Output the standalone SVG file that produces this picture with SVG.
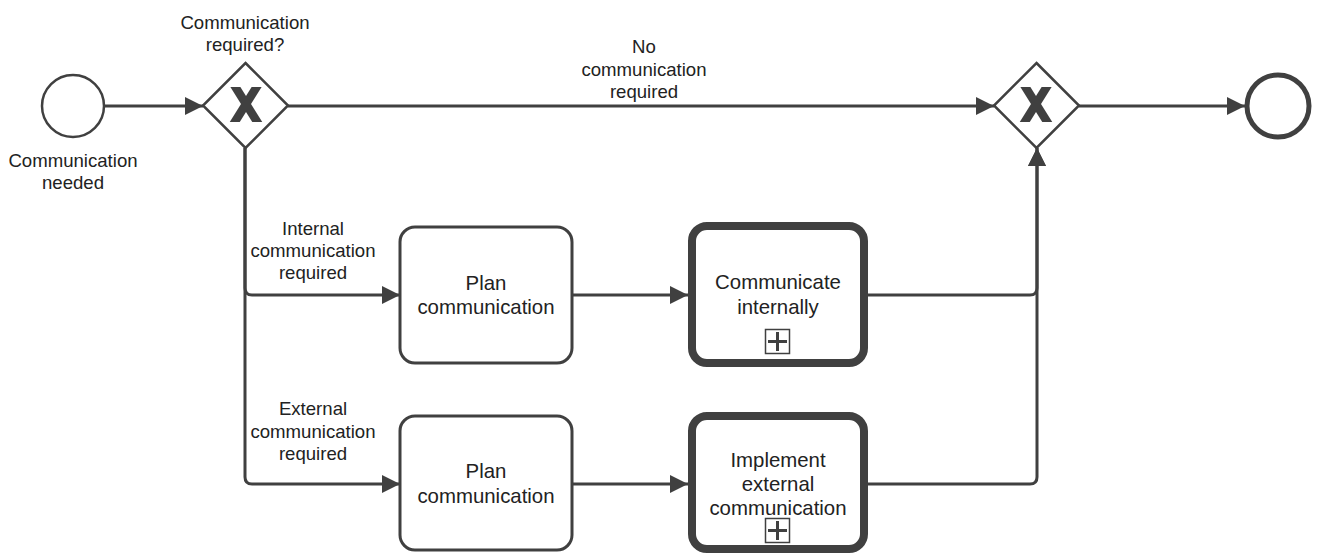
<svg xmlns="http://www.w3.org/2000/svg" width="1317" height="553" viewBox="0 0 1317 553">
<style>
.ln{fill:none;stroke:#404040;stroke-width:3;}
.ev{fill:#fff;stroke:#404040;stroke-width:2.5;}
.end{fill:#fff;stroke:#404040;stroke-width:5;}
.gw{fill:#fff;stroke:#404040;stroke-width:2.5;stroke-linejoin:miter;}
.gx{stroke:#404040;stroke-width:8.5;}
.task{fill:#fff;stroke:#404040;stroke-width:3;}
.sub{fill:#fff;stroke:#404040;stroke-width:8;}
.pm{fill:#fff;stroke:#404040;stroke-width:1.5;}
.pl{stroke:#404040;stroke-width:3;}
.lbl{font-family:"Liberation Sans",Arial,sans-serif;font-size:18.6px;fill:#222;text-anchor:middle;}
.tt{font-family:"Liberation Sans",Arial,sans-serif;font-size:20.4px;fill:#222;text-anchor:middle;}
</style>
<defs>
<marker id="arr" viewBox="0 0 18 18" refX="18" refY="9" markerWidth="18" markerHeight="18" markerUnits="userSpaceOnUse" orient="auto">
<path d="M0,0 L18,9 L0,18 Z" fill="#404040"/>
</marker>
<clipPath id="cx1"><rect x="220" y="87" width="52" height="35"/></clipPath>
<clipPath id="cx2"><rect x="1010" y="87" width="52" height="35"/></clipPath>
</defs>
<g id="connectors">
<path class="ln" d="M104,106 L203,106" marker-end="url(#arr)"/>
<path class="ln" d="M288,106 L994,106" marker-end="url(#arr)"/>
<path class="ln" d="M1079,106 L1245,106" marker-end="url(#arr)"/>
<path class="ln" d="M245,148 L245,288 Q245,295 252,295 L400,295" marker-end="url(#arr)"/>
<path class="ln" d="M245,148 L245,477 Q245,484 252,484 L400,484" marker-end="url(#arr)"/>
<path class="ln" d="M572,295 L688,295" marker-end="url(#arr)"/>
<path class="ln" d="M572,484 L688,484" marker-end="url(#arr)"/>
<path class="ln" d="M868,295 L1030,295 Q1037,295 1037,288 L1037,148" marker-end="url(#arr)"/>
<path class="ln" d="M868,484 L1030,484 Q1037,484 1037,477 L1037,148" marker-end="url(#arr)"/>
<text class="lbl" x="644" y="53">No</text>
<text class="lbl" x="644" y="76">communication</text>
<text class="lbl" x="644" y="98">required</text>
<text class="lbl" x="313" y="235">Internal</text>
<text class="lbl" x="313" y="257">communication</text>
<text class="lbl" x="313" y="279">required</text>
<text class="lbl" x="313" y="415">External</text>
<text class="lbl" x="313" y="438">communication</text>
<text class="lbl" x="313" y="460">required</text>
</g>
<g id="start">
<circle class="ev" cx="73" cy="106" r="31"/>
<text class="lbl" x="73" y="167">Communication</text>
<text class="lbl" x="73" y="189">needed</text>
</g>
<g id="gateway1">
<polygon class="gw" points="245.5,63 288,105.5 245.5,148 203,105.5"/>
<g clip-path="url(#cx1)">
<line class="gx" x1="231" y1="80" x2="261" y2="128"/>
<line class="gx" x1="261" y1="80" x2="231" y2="128"/>
</g>
<text class="lbl" x="245" y="29">Communication</text>
<text class="lbl" x="245" y="51">required?</text>
</g>
<g id="gateway2">
<polygon class="gw" points="1036.5,63 1079,105.5 1036.5,148 994,105.5"/>
<g clip-path="url(#cx2)">
<line class="gx" x1="1021" y1="80" x2="1051" y2="128"/>
<line class="gx" x1="1051" y1="80" x2="1021" y2="128"/>
</g>
</g>
<g id="end">
<circle class="end" cx="1278" cy="106" r="31"/>
</g>
<g id="plan1">
<rect class="task" x="400" y="227" width="172" height="136" rx="15"/>
<text class="tt" x="486" y="290">Plan</text>
<text class="tt" x="486" y="314">communication</text>
</g>
<g id="communicateInternally">
<rect class="sub" x="692" y="226" width="172" height="137" rx="15"/>
<text class="tt" x="778" y="289">Communicate</text>
<text class="tt" x="778" y="314">internally</text>
<rect class="pm" x="765.5" y="329.5" width="24" height="24"/>
<line class="pl" x1="768" y1="341.5" x2="787" y2="341.5"/>
<line class="pl" x1="777.5" y1="332" x2="777.5" y2="351"/>
</g>
<g id="plan2">
<rect class="task" x="400" y="416" width="172" height="134" rx="15"/>
<text class="tt" x="486" y="478">Plan</text>
<text class="tt" x="486" y="503">communication</text>
</g>
<g id="implementExternal">
<rect class="sub" x="692" y="416" width="172" height="133" rx="15"/>
<text class="tt" x="778" y="467">Implement</text>
<text class="tt" x="778" y="491">external</text>
<text class="tt" x="778" y="515">communication</text>
<rect class="pm" x="765.5" y="518.5" width="24" height="24"/>
<line class="pl" x1="768" y1="530.5" x2="787" y2="530.5"/>
<line class="pl" x1="777.5" y1="521" x2="777.5" y2="540"/>
</g>
</svg>
